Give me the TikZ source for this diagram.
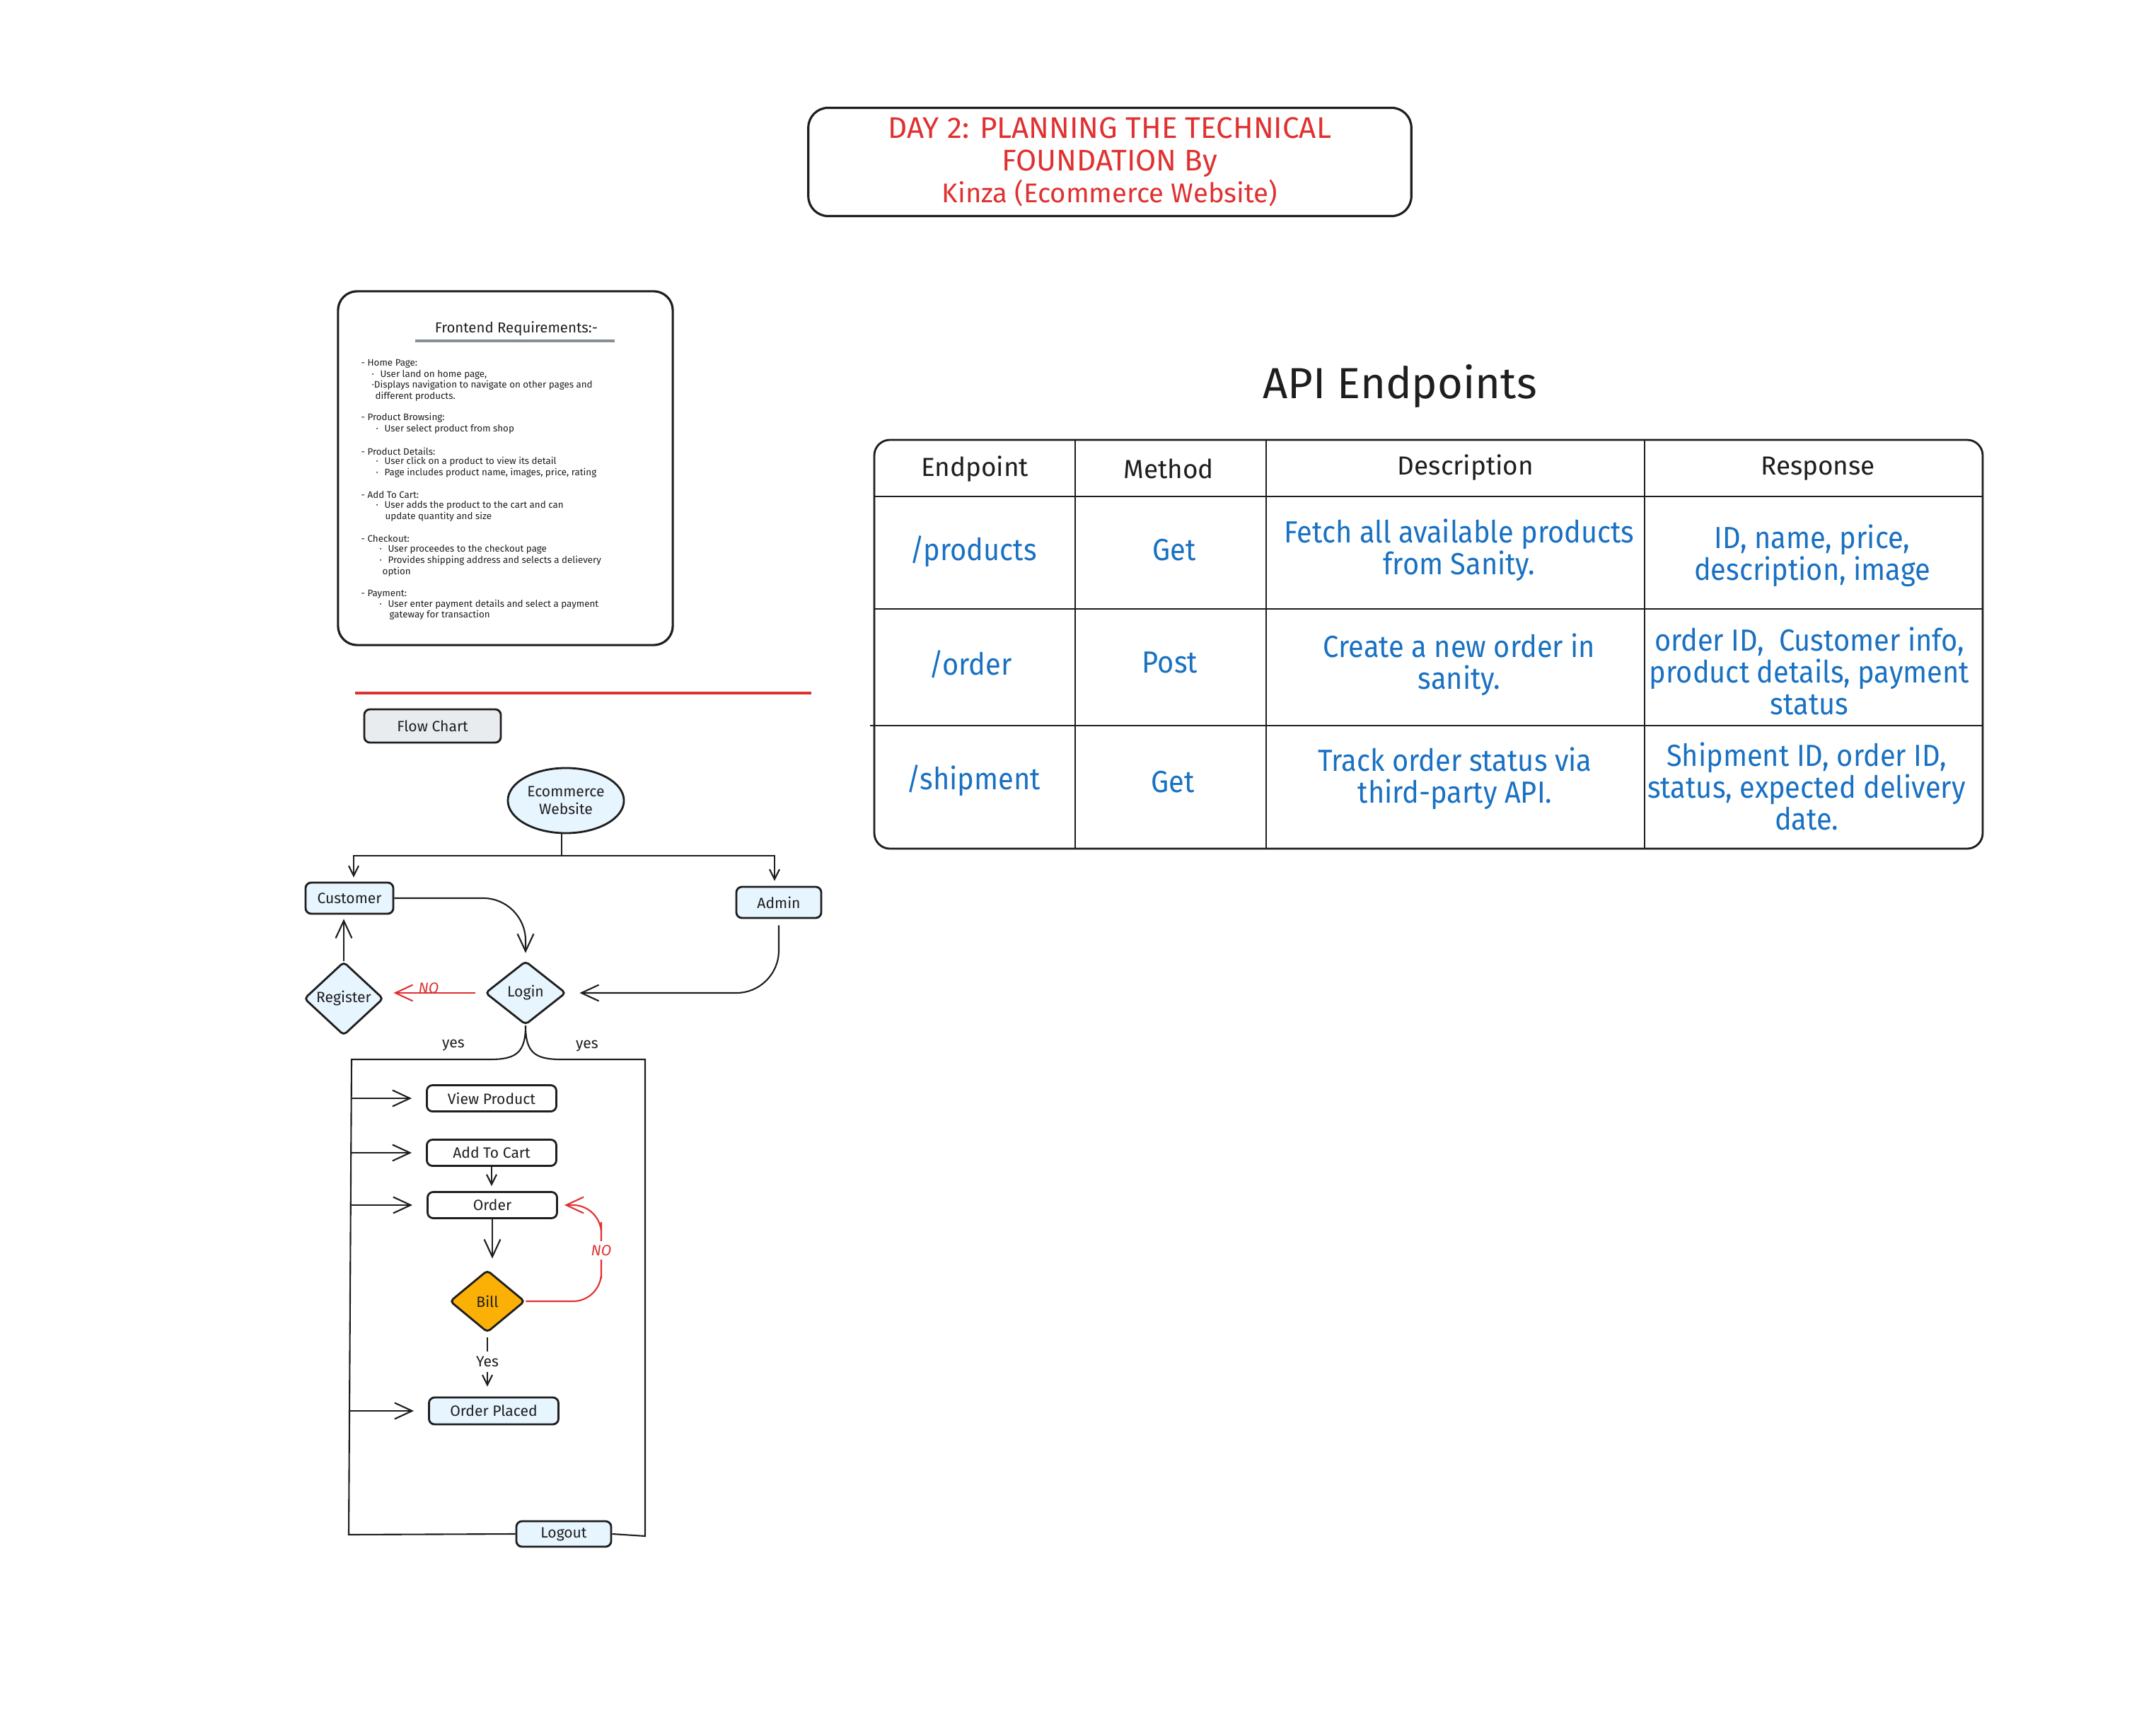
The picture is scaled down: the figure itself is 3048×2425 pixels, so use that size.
\documentclass[tikz,border=0pt]{standalone}
\usepackage{fontspec}
\setmainfont{Fira Sans}
\newfontfamily\condfont[FakeStretch=0.92]{Fira Sans}
\usetikzlibrary{arrows.meta,shapes.geometric,calc}
\definecolor{ink}{HTML}{1E1E1E}
\definecolor{redc}{HTML}{E03131}
\definecolor{bluec}{HTML}{1971C2}
\definecolor{lightblue}{HTML}{E7F5FF}
\definecolor{grayfill}{HTML}{E9ECEF}
\definecolor{orangec}{HTML}{FAB005}
\definecolor{grayline}{HTML}{868E96}
\tikzset{
  fcbox/.style={draw=ink, line width=0.8pt, rounded corners=0.08cm, minimum width=1.83cm, minimum height=0.37cm, inner sep=0pt, font=\fontsize{6}{7.2}\selectfont, text=ink, align=center},
  fcshape/.style={draw=ink, line width=0.8pt, inner sep=0pt, font=\fontsize{6}{7.2}\selectfont, text=ink, align=center},
  req/.style={anchor=west, inner sep=0pt, font=\fontsize{3.8}{4.4}\selectfont, text=ink},
  conn/.style={draw=ink, line width=0.6pt},
  arr/.style={draw=ink, line width=0.6pt, -{Straight Barb[length=7pt,width=6.5pt,line width=0.6pt]}},
  arrsmall/.style={draw=ink, line width=0.6pt, -{Straight Barb[length=4pt,width=4pt,line width=0.6pt]}},
  redarr/.style={draw=redc, line width=0.6pt, -{Straight Barb[length=7pt,width=6.5pt,line width=0.6pt]}},
  lbl/.style={inner sep=1pt, font=\fontsize{6}{7.2}\selectfont, text=ink},
  redlbl/.style={inner sep=1pt, font=\fontsize{6}{7.2}\selectfont\itshape, text=redc},
  thead/.style={font=\fontsize{10.5}{12.6}\selectfont, text=ink, align=center},
  tcell/.style={font=\condfont\fontsize{12.3}{12.9}\selectfont, text=bluec, align=center},
}
\begin{document}
\begin{tikzpicture}[x=0.01cm,y=-0.01cm]
\fill[white] (0,0) rectangle (3048,2425);
\useasboundingbox (0,0) rectangle (3048,2425);

% ---------- title ----------
\node[draw=ink, line width=0.9pt, rounded corners=0.28cm, minimum width=8.52cm, minimum height=1.53cm, align=center, text=redc, font=\fontsize{12}{12.9}\selectfont] (title) at (1569,229) {DAY 2: PLANNING THE TECHNICAL\\FOUNDATION By\\{\fontsize{10.9}{12.9}\selectfont Kinza (Ecommerce Website)}};

% ---------- frontend requirements ----------
\node[draw=ink, line width=0.9pt, rounded corners=0.27cm, minimum width=4.73cm, minimum height=5.0cm] (fe) at (714.5,662) {};
\node[font=\fontsize{5.8}{7}\selectfont, text=ink, inner sep=0pt] (fetitle) at (730,465) {Frontend Requirements:-};
\draw[grayline, line width=0.9pt] (587,482) -- (869,482);
\node[req] (r1) at (510,514) {- Home Page:};
\node[req] (r2) at (525,530) {·\hspace{2.5pt}User land on home page,};
\node[req] (r3) at (525,545) {·Displays navigation to navigate on other pages and};
\node[req] (r4) at (530,561) {different products.};
\node[req] (r5) at (510,591) {- Product Browsing:};
\node[req] (r6) at (531,607) {·\hspace{2.5pt}User select product from shop};
\node[req] (r7) at (510,638) {- Product Details:};
\node[req] (r8) at (531,653) {·\hspace{2.5pt}User click on a product to view its detail};
\node[req] (r9) at (531,669) {·\hspace{2.5pt}Page includes product name, images, price, rating};
\node[req] (r10) at (510,700) {- Add To Cart:};
\node[req] (r11) at (531,715) {·\hspace{2.5pt}User adds the product to the cart and can};
\node[req] (r12) at (544,731) {update quantity and size};
\node[req] (r13) at (510,762) {- Checkout:};
\node[req] (r14) at (536,777) {·\hspace{2.5pt}User proceedes to the checkout page};
\node[req] (r15) at (536,793) {·\hspace{2.5pt}Provides shipping address and selects a delievery};
\node[req] (r16) at (540,809) {option};
\node[req] (r17) at (510,840) {- Payment:};
\node[req] (r18) at (536,855) {·\hspace{2.5pt}User enter payment details and select a payment};
\node[req] (r19) at (550,870) {gateway for transaction};

% ---------- separator ----------
\draw[redc, line width=1.1pt] (502,980) -- (1147,980);

% ---------- flow chart ----------
\node[fcbox, fill=grayfill, minimum width=1.93cm, minimum height=0.47cm] (fc) at (611.5,1026.5) {Flow Chart};
\node[fcshape, ellipse, fill=lightblue, minimum width=1.64cm, minimum height=0.92cm] (eco) at (800,1132) {Ecommerce\\Website};
\node[fcbox, fill=lightblue, minimum width=1.24cm, minimum height=0.44cm] (cust) at (494,1270) {Customer};
\node[fcbox, fill=lightblue, minimum width=1.20cm, minimum height=0.44cm] (adm) at (1101,1276) {Admin};
\node[fcshape, diamond, fill=lightblue, minimum width=1.14cm, minimum height=0.90cm, rounded corners=0.05cm] (login) at (743,1404) {Login};
\node[fcshape, diamond, fill=lightblue, minimum width=1.12cm, minimum height=1.04cm, rounded corners=0.05cm] (reg) at (486,1412) {Register};
\node[fcbox, minimum width=1.83cm] (vp) at (695,1553) {View Product};
\node[fcbox, minimum width=1.83cm] (ac) at (695,1630) {Add To Cart};
\node[fcbox, minimum width=1.83cm] (ord) at (696,1704) {Order};
\node[fcshape, diamond, fill=orangec, minimum width=1.06cm, minimum height=0.88cm, rounded corners=0.05cm] (bill) at (689,1840) {Bill};
\node[fcbox, fill=lightblue, minimum width=1.83cm, minimum height=0.38cm] (op) at (698,1995) {Order Placed};
\node[fcbox, fill=lightblue, minimum width=1.34cm, minimum height=0.36cm] (logout) at (797,2169) {Logout};

% split from ecommerce
\coordinate (split) at ([xshift=-0.06cm]eco.south |- 0,1210);
\draw[conn] ([xshift=-0.06cm]eco.south) -- (split);
\draw[arrsmall, shorten >=0.06cm] (split) -| ([xshift=0.06cm]cust.north);
\draw[arrsmall, shorten >=0.07cm] (split) -| ([xshift=-0.06cm]adm.north);

% customer -> login
\draw[arr, rounded corners=0.6cm, shorten >=0.1cm] (cust.east) -| (login.north);
% register -> customer
\draw[arr, shorten >=0.06cm] (reg.north) -- (reg.north |- cust.south);
% login -> register (NO)
\draw[redarr, shorten <=0.13cm, shorten >=0.13cm] (login.west) -- (login.west -| reg.east);
\node[redlbl] (nolbl1) at (606,1397) {NO};
% admin -> login
\draw[arr, rounded corners=0.6cm, shorten <=0.09cm, shorten >=0.18cm] (adm.south) |- (login.east);

% container
\coordinate (tl) at (497,1498);
\coordinate (bl) at (493,2170);
\coordinate (tr) at (912,1498);
\coordinate (br) at (912,2172);
\draw[conn] (login.south) .. controls (743,1488) and (730,1498) .. (693,1498) -- (tl) -- (bl) -- (logout.west);
\draw[conn] (login.south) .. controls (743,1488) and (756,1498) .. (793,1498) -- (tr) -- (br) -- (logout.east);
\node[lbl] (yes1) at (641,1478) {yes};
\node[lbl] (yes2) at (830,1479) {yes};

% side arrows into boxes
\draw[arr, shorten >=0.2cm] (vp.west -| tl) -- (vp.west);
\draw[arr, shorten >=0.2cm] (ac.west -| tl) -- (ac.west);
\draw[arr, shorten >=0.2cm] (ord.west -| tl) -- (ord.west);
\draw[arr, shorten >=0.2cm] (op.west -| bl) -- (op.west);

% inner flow
\draw[arrsmall, shorten >=0.07cm] (ac.south) -- (ac.south |- ord.north);
\draw[arr, shorten >=0.15cm] (ord.south) -- (ord.south |- bill.north);
\draw[arrsmall, shorten <=0.06cm, shorten >=0.14cm] (bill.south) -- (bill.south |- op.north) node[lbl, pos=0.45, fill=white, inner sep=2pt] (yeslbl) {Yes};
\coordinate (noc) at (850,1768);
\draw[redarr, rounded corners=0.4cm, shorten >=0.09cm] (bill.east) -| (noc) |- (ord.east);
\node[redlbl, fill=white, inner sep=1.5pt] (nolbl2) at (noc) {NO};

% ---------- API endpoints ----------
\node[font=\fontsize{17.5}{19}\selectfont, text=ink] (apititle) at (1979,546) {API Endpoints};
\draw[ink, line width=0.8pt, rounded corners=0.22cm] (1236,622) rectangle (2803,1200);
\draw[ink, line width=0.5pt] (1520,622) -- (1520,1200);
\draw[ink, line width=0.5pt] (1790,622) -- (1790,1200);
\draw[ink, line width=0.5pt] (2325,622) -- (2325,1200);
\draw[ink, line width=0.8pt] (1236,702) -- (2803,702);
\draw[ink, line width=0.8pt] (1236,861) -- (2803,861);
\draw[ink, line width=0.8pt] (1230,1026) -- (2803,1026);

\node[thead] (h1) at (1378,663) {Endpoint};
\node[thead] (h2) at (1652,663) {Method};
\node[thead] (h3) at (2072,661) {Description};
\node[thead] (h4) at (2570,663) {Response};

\node[tcell] (c11) at (1376,780) {/products};
\node[tcell] (c12) at (1660,778) {Get};
\node[tcell] (c13) at (2063,778) {Fetch all available products\\from Sanity.};
\node[tcell] (c14) at (2562,786) {ID, name, price,\\description, image};

\node[tcell] (c21) at (1372,939) {/order};
\node[tcell] (c22) at (1654,937) {Post};
\node[tcell] (c23) at (2063,940) {Create a new order in\\sanity.};
\node[tcell] (c24) at (2558,949) {order ID,\ \ Customer info,\\product details, payment\\status};

\node[tcell] (c31) at (1376,1104) {/shipment};
\node[tcell] (c32) at (1658,1106) {Get};
\node[tcell] (c33) at (2057,1101) {Track order status via\\third-party API.};
\node[tcell] (c34) at (2554,1112) {Shipment ID, order ID,\\status, expected delivery\\date.};
\end{tikzpicture}
\end{document}
